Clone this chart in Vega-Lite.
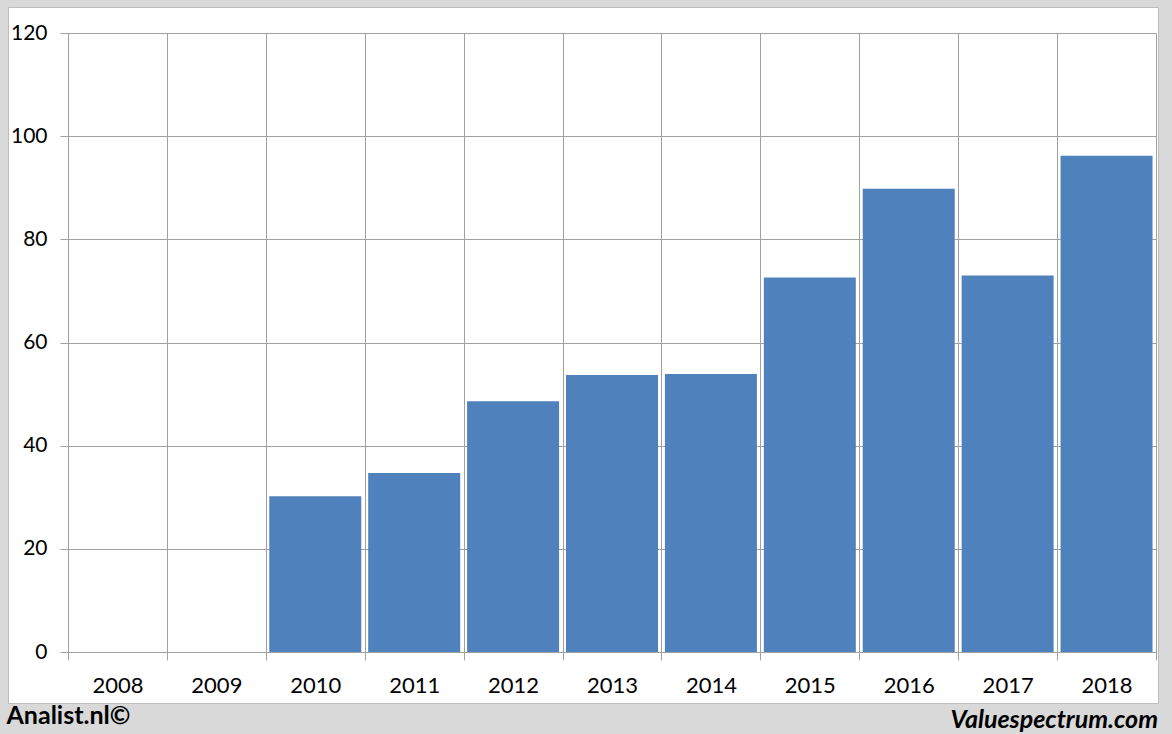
{
  "$schema": "https://vega.github.io/schema/vega-lite/v6.json",
  "width": 1150,
  "height": 696,
  "autosize": {"type": "none"},
  "padding": {"left": 8, "top": 7, "right": 14, "bottom": 31},
  "background": "#d9d9d9",
  "config": {
    "view": {"fill": "white", "stroke": "#bdbdbd", "strokeWidth": 1},
    "font": "Lato"
  },
  "title": {
    "text": "Valuespectrum.com",
    "orient": "bottom",
    "anchor": "end",
    "frame": "group",
    "font": "Lato",
    "fontSize": 25,
    "fontWeight": "bold",
    "fontStyle": "italic",
    "color": "black",
    "offset": -20
  },
  "data": {
    "values": [
      {"year": "2008", "value": null},
      {"year": "2009", "value": null},
      {"year": "2010", "value": 30.2},
      {"year": "2011", "value": 34.7},
      {"year": "2012", "value": 48.6},
      {"year": "2013", "value": 53.7},
      {"year": "2014", "value": 53.9},
      {"year": "2015", "value": 72.6},
      {"year": "2016", "value": 89.8},
      {"year": "2017", "value": 73.0},
      {"year": "2018", "value": 96.2}
    ]
  },
  "encoding": {
    "y": {
      "field": "value",
      "type": "quantitative",
      "scale": {"domain": [0, 120], "range": [645, 26], "nice": false},
      "axis": {
        "offset": -60,
        "values": [0, 20, 40, 60, 80, 100, 120],
        "grid": true,
        "gridColor": "#a0a0a0",
        "domain": false,
        "tickColor": "#a0a0a0",
        "tickSize": 8,
        "labelFontSize": 21,
        "labelColor": "black",
        "labelPadding": 13,
        "title": null
      }
    }
  },
  "layer": [
    {
      "mark": {"type": "bar", "opacity": 0},
      "encoding": {
        "x": {
          "field": "year",
          "type": "ordinal",
          "scale": {
            "domain": ["2008", "2009", "2010", "2011", "2012", "2013", "2014", "2015", "2016", "2017", "2018"],
            "range": [60, 1148],
            "paddingInner": 0,
            "paddingOuter": 0
          },
          "axis": {
            "orient": "top",
            "tickBand": "extent",
            "grid": true,
            "gridColor": "#a0a0a0",
            "domain": false,
            "ticks": false,
            "labels": false,
            "title": null
          }
        }
      }
    },
    {
      "mark": {"type": "bar", "color": "#4f81bd", "width": {"band": 0.93}},
      "encoding": {
        "x": {
          "field": "year",
          "type": "ordinal",
          "scale": {
            "domain": ["2008", "2009", "2010", "2011", "2012", "2013", "2014", "2015", "2016", "2017", "2018"],
            "range": [60, 1148],
            "paddingInner": 0,
            "paddingOuter": 0
          },
          "axis": {
            "orient": "bottom",
            "offset": -51,
            "tickBand": "extent",
            "grid": false,
            "domain": false,
            "tickColor": "#a0a0a0",
            "tickSize": 8,
            "labelFontSize": 22,
            "labelColor": "black",
            "labelAngle": 0,
            "labelBaseline": "middle",
            "labelPadding": 25,
            "title": "Analist.nl©",
            "titleAnchor": "start",
            "titleAlign": "left",
            "titleX": -2,
            "titleY": 71,
            "titleBaseline": "alphabetic",
            "titleFont": "Lato",
            "titleFontSize": 25,
            "titleFontWeight": "bold",
            "titleColor": "black"
          }
        }
      }
    }
  ],
  "resolve": {"axis": {"x": "independent"}}
}
